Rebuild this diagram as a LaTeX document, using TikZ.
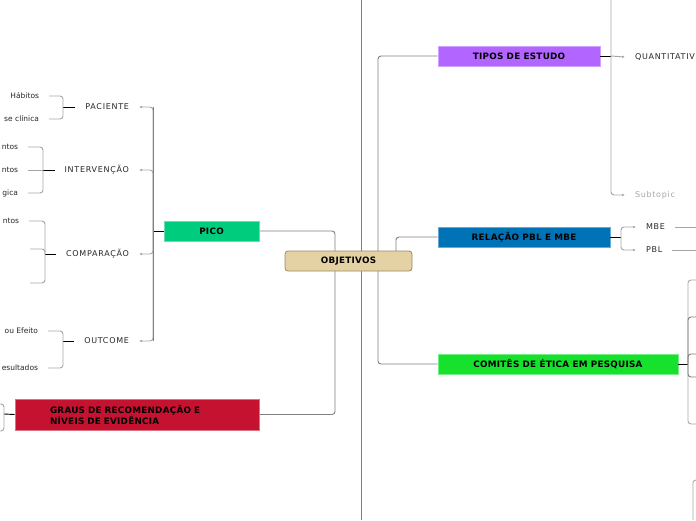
\documentclass[tikz,border=0pt]{standalone}
\usepackage{fontspec}
\setmainfont{DejaVu Sans}
\newfontfamily\capsfamily[LetterSpace=9]{DejaVu Sans}
\newfontfamily\boldfamily[LetterSpace=3]{DejaVu Sans}
\usepackage{xcolor}
\usepackage{tikz}
\usetikzlibrary{arrows.meta,backgrounds}

\definecolor{objtan}{HTML}{E4D2A4}
\definecolor{objedge}{HTML}{9C8A63}
\definecolor{picogreen}{HTML}{00CC7E}
\definecolor{grausred}{HTML}{C41230}
\definecolor{tipospurple}{HTML}{B266FF}
\definecolor{relblue}{HTML}{0073B6}
\definecolor{cometgreen}{HTML}{16E22E}

\begin{document}
\begin{tikzpicture}[
    x=1pt, y=-1pt,
    font=\fontsize{7.5}{9}\selectfont,
    hub/.style={draw=objedge, fill=objtan, rounded corners=3pt, line width=0.8pt, minimum width=127pt, minimum height=20pt, inner sep=0pt, font=\boldfamily\bfseries\fontsize{8.8}{11}\selectfont},
    topic/.style={draw=#1!60!white, fill=#1, line width=0.8pt, minimum height=20pt, inner sep=0pt, font=\boldfamily\bfseries\fontsize{8.8}{11}\selectfont},
    sub/.style={text=black!85, inner ysep=1pt, inner xsep=1pt, outer xsep=9pt, font=\capsfamily\fontsize{8}{9}\selectfont},
    leaf/.style={text=black!85, inner ysep=1pt, inner xsep=1pt, outer xsep=9pt},
    trunk/.style={draw=black!50, line width=0.9pt, rounded corners=3pt},
    tie/.style={draw=black, line width=0.9pt},
    twig/.style={draw=black!35, line width=0.9pt, rounded corners=3pt},
    arr/.style={twig, -{Latex[length=3pt,width=2.6pt]}}
]
\useasboundingbox (0,0) rectangle (696,520);
\clip (0,0) rectangle (696,520);

% main topics
\node[hub] (obj) at (348.5,261) {OBJETIVOS};
\node[topic=picogreen, minimum width=95pt] (pico) at (211.5,231) {PICO};
\node[topic=grausred, minimum width=244pt, minimum height=31pt, inner xsep=35pt, text width=174pt, align=left] (graus) at (137,414.5) {GRAUS DE RECOMENDAÇÃO E\\NÍVEIS DE EVIDÊNCIA};
\node[topic=tipospurple, minimum width=162pt] (tipos) at (519,56) {TIPOS DE ESTUDO};
\node[topic=relblue, minimum width=172pt] (rel) at (524,237) {RELAÇÃO PBL E MBE};
\node[topic=cometgreen, minimum width=240pt] (comet) at (558,364) {COMITÊS DE ÉTICA EM PESQUISA};

% PICO subtopics
\node[sub, anchor=east] (pac) at (139,107) {PACIENTE};
\node[sub, anchor=east] (interv) at (139,170) {INTERVENÇÃO};
\node[sub, anchor=east] (comp) at (139,254) {COMPARAÇÃO};
\node[sub, anchor=east] (outc) at (139,341) {OUTCOME};

\node[leaf, anchor=east] (hab) at (49,96) {Hábitos};
\node[leaf, anchor=east] (clin) at (49,119) {se clínica};
\node[leaf, anchor=east] (int1) at (28,147) {ntos};
\node[leaf, anchor=east] (int2) at (28,170) {ntos};
\node[leaf, anchor=east] (int3) at (28,193) {gica};
\node[leaf, anchor=east] (cmp1) at (29,221) {ntos};
\coordinate (cmp2) at (30,249);
\coordinate (cmp3) at (30,283);
\node[leaf, anchor=east] (out1) at (48,331) {ou Efeito};
\node[leaf, anchor=east] (out2) at (48,368) {esultados};

% right subtopics
\node[sub, anchor=west] (quant) at (625,57) {QUANTITATIV};
\node[sub, anchor=west, text=black!35] (subt) at (625,195) {Subtopic};
\node[sub, anchor=west] (mbe) at (636,227) {MBE};
\node[sub, anchor=west] (pbl) at (636,250) {PBL};

% joints
\coordinate (objl) at (335,261);
\coordinate (objr) at (378,261);
\coordinate (objt) at (396,261);
\coordinate (picoj) at (153,231);
\coordinate (pacj) at (63,107);
\coordinate (intj) at (43,170);
\coordinate (compj) at (45,254);
\coordinate (outj) at (63,341);
\coordinate (grausj) at (4,414);
\coordinate (tiposj) at (611,56);
\coordinate (relj) at (621,237);
\coordinate (cometj) at (688,364);

\begin{pgfonlayer}{background}
\draw[trunk] (361,0) coordinate (top) -- (361,520) coordinate (bot);
\draw[trunk] (pico.east) -| (objl) |- (graus.east);
\draw[trunk] (tipos.west) -| (objr) |- (comet.west);
\draw[trunk] (rel.west) -| (objt);
\end{pgfonlayer}

% PICO
\draw[tie] (pico.west) -- (picoj);
\draw[arr] (picoj) |- (pac.east);
\draw[arr] (picoj) -- (interv.east -| picoj) -- (interv.east);
\draw[arr] (picoj) -- (comp.east -| picoj) -- (comp.east);
\draw[arr] (picoj) |- (outc.east);
\draw[trunk, rounded corners=0pt] (pac.east -| picoj) -- (outc.east -| picoj);

\draw[tie] (pac.west) -- (pacj);
\draw[twig] (hab.east) -| (pacj) |- (clin.east);
\draw[tie] (interv.west) -- (intj);
\draw[twig] (int1.east) -| (intj) |- (int3.east);
\draw[twig] (int2.east) -- (intj);
\draw[tie] (comp.west) -- (compj);
\draw[twig] (cmp1.east) -| (compj) |- (cmp3);
\draw[twig] (cmp2) -| (compj);
\draw[tie] (outc.west) -- (outj);
\draw[twig] (out1.east) -| (outj) |- (out2.east);

% GRAUS
\draw[tie] (graus.west) -- (grausj);
\draw[twig] (0,404) coordinate (g1) -| (grausj) |- (0,431) coordinate (g2);

% TIPOS
\draw[tie] (tipos.east) -- (tiposj);
\draw[arr] (tiposj) -- (quant.west);
\draw[arr] (611,0) coordinate (ttop) |- (subt.west);

% RELACAO
\draw[tie] (rel.east) -- (relj);
\draw[arr] (relj) |- (mbe.west);
\draw[arr] (relj) |- (pbl.west);
\draw[twig] (mbe.east) -- (696,227) coordinate (mbeout);
\draw[twig] (pbl.east) -- (696,250) coordinate (pblout);

% COMITES
\draw[tie] (comet.east) -- (cometj);
\draw[twig] (696,280) coordinate (c1) -| (cometj) |- (696,424) coordinate (c5);
\draw[trunk] (696,317) coordinate (c2) -| (cometj);
\draw[trunk] (696,354) coordinate (c3) -| (cometj);
\draw[trunk] (696,377) coordinate (c4) -| (cometj);

% lower right
\draw[twig] (696,480) coordinate (br1) -| (693,520) coordinate (br2);
\end{tikzpicture}
\end{document}
